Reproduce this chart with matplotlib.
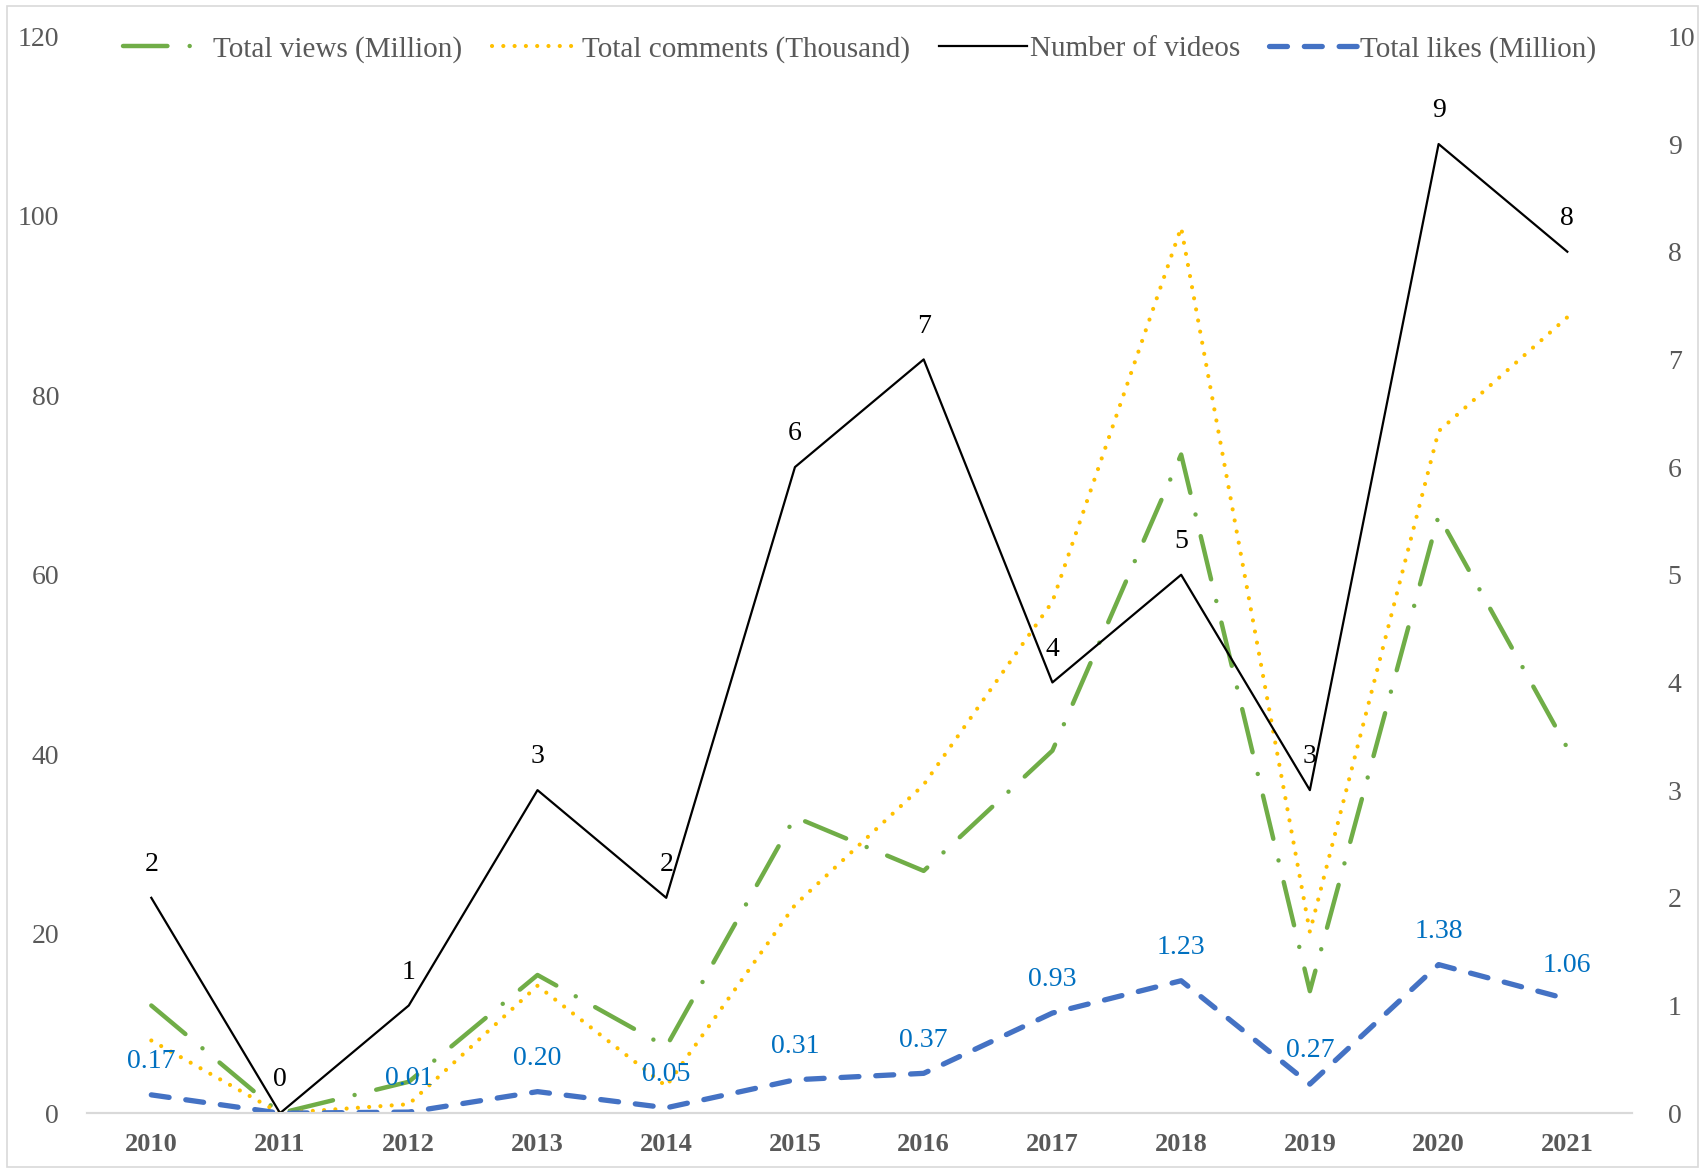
import matplotlib.pyplot as plt
from matplotlib.patches import Rectangle

years = ['2010', '2011', '2012', '2013', '2014', '2015', '2016', '2017', '2018', '2019', '2020', '2021']
views = [12.0, 0.0, 3.5, 15.4, 7.4, 33.0, 27.0, 40.4, 73.4, 13.6, 66.6, 40.7]
comments = [8.1, 0.0, 1.0, 14.2, 3.0, 23.2, 36.6, 57.0, 98.7, 20.2, 76.0, 88.7]
videos = [2, 0, 1, 3, 2, 6, 7, 4, 5, 3, 9, 8]
likes = [0.17, 0.0, 0.01, 0.20, 0.05, 0.31, 0.37, 0.93, 1.23, 0.27, 1.38, 1.06]

plt.rcParams['font.family'] = ['Liberation Serif', 'DejaVu Serif']
grey = '#595959'

fig = plt.figure(figsize=(17.05, 11.73), dpi=100)
ax = fig.add_axes([0.051, 0.051, 0.906, 0.918])
ax2 = ax.twinx()

x = range(len(years))

l1, = ax.plot(x, views, color='#70AD47', lw=3.2, solid_capstyle='round', dash_capstyle='round',
              label='Total views (Million)')
l1.set_dashes((10, 5, 0.01, 5))
l2, = ax.plot(x, comments, color='#FFC000', lw=3.0, dash_capstyle='round',
              label='Total comments (Thousand)')
l2.set_dashes((0.01, 2.7))
l3, = ax2.plot(x, videos, color='black', lw=1.6, label='Number of videos')
l4, = ax2.plot(x, likes, color='#4472C4', lw=3.8, dash_capstyle='round',
               label='Total likes (Million)')
l4.set_dashes((3.4, 3.2))

# labels above points
for i in x:
    ax2.annotate(str(videos[i]), (i, videos[i]), xytext=(0, 24), textcoords='offset points',
                 ha='center', va='center', fontsize=20, color='black')
    if i != 1:
        ax2.annotate('%.2f' % likes[i], (i, likes[i]), xytext=(0, 24), textcoords='offset points',
                     ha='center', va='center', fontsize=20, color='#0070C0')

ax.set_xlim(-0.5, 11.5)
ax.set_ylim(0, 120)
ax2.set_ylim(0, 10)
ax.set_yticks(range(0, 121, 20))
ax2.set_yticks(range(0, 11))
ax.set_xticks(list(x))
ax.set_xticklabels(years, fontweight='bold')

ax.tick_params(axis='y', length=0, pad=20, labelsize=20, labelcolor=grey)
ax2.tick_params(axis='y', length=0, pad=26, labelsize=20, labelcolor=grey)
ax.tick_params(axis='x', length=0, pad=14, labelsize=19, labelcolor=grey)

for a in (ax, ax2):
    for s in ('top', 'left', 'right'):
        a.spines[s].set_visible(False)
    a.spines['bottom'].set_color('#D9D9D9')
    a.spines['bottom'].set_linewidth(1.5)

leg = ax.legend(handles=[l1, l2, l3, l4], loc='center', bbox_to_anchor=(0.5, 0.988),
                ncol=4, frameon=False, fontsize=21, handlelength=3.0, handletextpad=0.1,
                columnspacing=1.0)
for t in leg.get_texts():
    t.set_color(grey)

fig.patches.append(Rectangle((0.004, 0.005), 0.992, 0.99, transform=fig.transFigure,
                             fill=False, edgecolor='#D9D9D9', lw=1.2))

fig.savefig('out.png', dpi=100)
plt.close(fig)
